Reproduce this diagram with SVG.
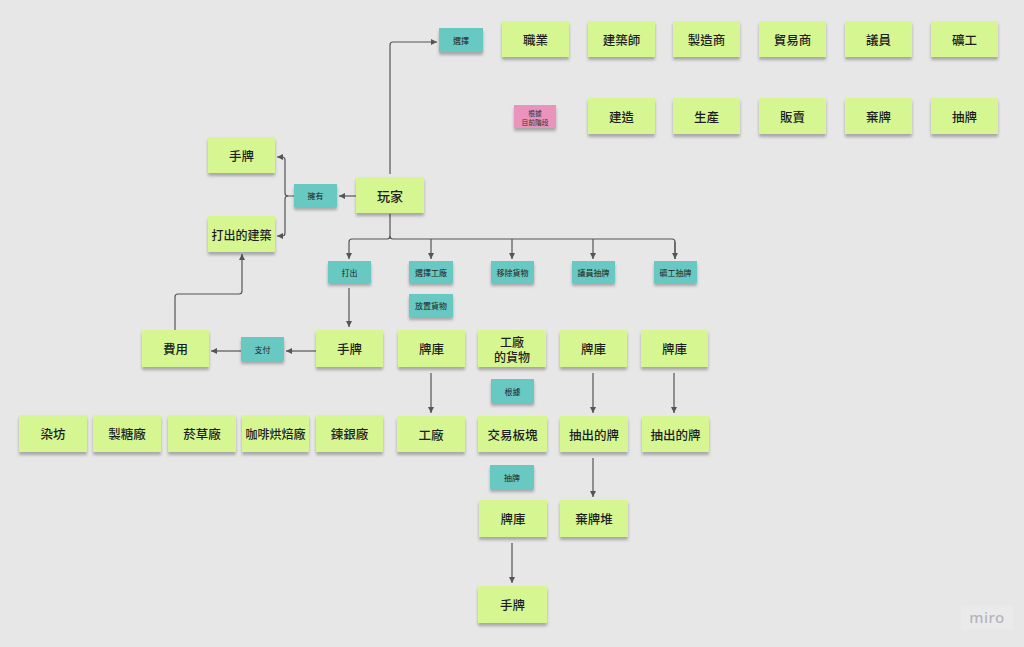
<svg xmlns="http://www.w3.org/2000/svg" width="1024" height="647" viewBox="0 0 1024 647">
<defs>
<filter id="sh" x="-10%" y="-10%" width="120%" height="140%">
<feDropShadow dx="0" dy="3" stdDeviation="1.8" flood-color="#000" flood-opacity="0.28"/>
</filter>
<marker id="ah" markerUnits="userSpaceOnUse" markerWidth="7" markerHeight="7" refX="6" refY="3" orient="auto">
<path d="M0,0 L6,3 L0,6 z" fill="#555"/>
</marker>
<style>
.n{fill:#d6f692;filter:url(#sh)}
.t{fill:#67c8c2;filter:url(#sh)}
.p{fill:#ea93bd;filter:url(#sh)}
.nt{font-family:"Noto Sans CJK TC","Noto Sans CJK SC",sans-serif;font-size:12.5px;font-weight:500;fill:#1e1e1e;text-anchor:middle;dominant-baseline:central}
.tt{font-family:"Noto Sans CJK TC","Noto Sans CJK SC",sans-serif;font-size:8px;fill:#222;text-anchor:middle;dominant-baseline:central}
.pt{font-family:"Noto Sans CJK TC","Noto Sans CJK SC",sans-serif;font-size:6.8px;fill:#333;text-anchor:middle;dominant-baseline:central}
.c{fill:none;stroke:#555;stroke-width:1.2}
.ca{fill:none;stroke:#555;stroke-width:1.2;marker-end:url(#ah)}
</style>
</defs>
<rect width="1024" height="647" fill="#e7e7e7"/>

<g id="connectors">
<path class="ca" d="M390,174 V45 Q390,42 393,42 H437"/>
<path class="ca" d="M356,196 H339"/>
<path class="ca" d="M294,196 H288 Q285,196 285,193 V160 Q285,157 282,157 H277"/>
<path class="ca" d="M288,196 Q285,196 285,199 V233 Q285,236 282,236 H277"/>
<path class="c" d="M390,214 V236 Q390,239 393,239 H672 Q675,239 675,242 V259"/>
<path class="ca" d="M675,242 V259"/>
<path class="ca" d="M390,236 Q390,239 387,239 H352 Q349,239 349,242 V259"/>
<path class="ca" d="M431,239 V259"/>
<path class="ca" d="M512,239 V259"/>
<path class="ca" d="M593,239 V259"/>
<path class="ca" d="M349,288 V327"/>
<path class="ca" d="M316,351 H286"/>
<path class="ca" d="M241,351 H211"/>
<path class="ca" d="M175,330 V297 Q175,294 178,294 H239 Q242,294 242,291 V254"/>
<path class="ca" d="M431,373 V413"/>
<path class="ca" d="M593,373 V413"/>
<path class="ca" d="M674,373 V413"/>
<path class="ca" d="M593,458 V497"/>
<path class="ca" d="M512,543 V583"/>
</g>

<g id="n-zhiye"><rect class="n" x="502" y="21" width="67" height="36"/><text class="nt" x="535.5" y="39">職業</text></g>
<g id="n-jianzhushi"><rect class="n" x="588" y="21" width="67" height="36"/><text class="nt" x="621.5" y="39">建築師</text></g>
<g id="n-zhizaoshang"><rect class="n" x="673" y="21" width="67" height="36"/><text class="nt" x="706.5" y="39">製造商</text></g>
<g id="n-maoyishang"><rect class="n" x="759" y="21" width="67" height="36"/><text class="nt" x="792.5" y="39">貿易商</text></g>
<g id="n-yiyuan"><rect class="n" x="845" y="21" width="67" height="36"/><text class="nt" x="878.5" y="39">議員</text></g>
<g id="n-kuanggong"><rect class="n" x="931" y="21" width="67" height="36"/><text class="nt" x="964.5" y="39">礦工</text></g>

<g id="n-genju-stage"><rect class="p" x="514" y="105" width="42" height="23"/><text class="pt" x="535" y="112.5">根據</text><text class="pt" x="535" y="121.5">目前階段</text></g>
<g id="n-jianzao"><rect class="n" x="588" y="98" width="67" height="36"/><text class="nt" x="621.5" y="116">建造</text></g>
<g id="n-shengchan"><rect class="n" x="673" y="98" width="67" height="36"/><text class="nt" x="706.5" y="116">生產</text></g>
<g id="n-fanmai"><rect class="n" x="759" y="98" width="67" height="36"/><text class="nt" x="792.5" y="116">販賣</text></g>
<g id="n-qipai"><rect class="n" x="845" y="98" width="67" height="36"/><text class="nt" x="878.5" y="116">棄牌</text></g>
<g id="n-choupai"><rect class="n" x="931" y="98" width="67" height="36"/><text class="nt" x="964.5" y="116">抽牌</text></g>

<g id="l-xuanze"><rect class="t" x="439" y="28" width="44" height="24"/><text class="tt" x="461" y="40">選擇</text></g>
<g id="n-shoupai1"><rect class="n" x="208" y="137" width="67" height="36"/><text class="nt" x="241.5" y="155">手牌</text></g>
<g id="n-dachu-jianzhu"><rect class="n" x="208" y="216" width="67" height="36"/><text class="nt" x="241.5" y="234" style="font-size:12px">打出的建築</text></g>
<g id="l-yongyou"><rect class="t" x="294" y="184" width="43" height="23"/><text class="tt" x="315.5" y="195.5">擁有</text></g>
<g id="n-wanjia"><rect class="n" x="356" y="177" width="68" height="36"/><text class="nt" x="390" y="195" style="font-size:13px">玩家</text></g>

<g id="l-dachu"><rect class="t" x="328" y="261" width="43" height="22"/><text class="tt" x="349.5" y="272">打出</text></g>
<g id="l-xuanze-gongchang"><rect class="t" x="409" y="261" width="44" height="22"/><text class="tt" x="431" y="272">選擇工廠</text></g>
<g id="l-yichu-huowu"><rect class="t" x="491" y="261" width="43" height="22"/><text class="tt" x="512.5" y="272">移除貨物</text></g>
<g id="l-yiyuan-choupai"><rect class="t" x="572" y="261" width="43" height="22"/><text class="tt" x="593.5" y="272">議員抽牌</text></g>
<g id="l-kuanggong-choupai"><rect class="t" x="654" y="261" width="43" height="22"/><text class="tt" x="675.5" y="272">礦工抽牌</text></g>
<g id="l-fangzhi-huowu"><rect class="t" x="409" y="294" width="44" height="23"/><text class="tt" x="431" y="305.5">放置貨物</text></g>

<g id="n-feiyong"><rect class="n" x="142" y="330" width="67" height="37"/><text class="nt" x="175.5" y="348.5">費用</text></g>
<g id="l-zhifu"><rect class="t" x="241" y="337" width="43" height="24"/><text class="tt" x="262.5" y="349">支付</text></g>
<g id="n-shoupai2"><rect class="n" x="316" y="330" width="67" height="37"/><text class="nt" x="349.5" y="348.5">手牌</text></g>
<g id="n-paiku1"><rect class="n" x="398" y="330" width="67" height="37"/><text class="nt" x="431.5" y="348.5">牌庫</text></g>
<g id="n-gongchang-huowu"><rect class="n" x="478" y="330" width="68" height="37"/><text class="nt" x="512" y="341" style="font-size:12px">工廠</text><text class="nt" x="512" y="356.5" style="font-size:12px">的貨物</text></g>
<g id="n-paiku2"><rect class="n" x="560" y="330" width="67" height="37"/><text class="nt" x="593.5" y="348.5">牌庫</text></g>
<g id="n-paiku3"><rect class="n" x="641" y="330" width="67" height="37"/><text class="nt" x="674.5" y="348.5">牌庫</text></g>

<g id="n-ranfang"><rect class="n" x="19" y="415" width="68" height="37"/><text class="nt" x="53" y="433.5">染坊</text></g>
<g id="n-zhitangchang"><rect class="n" x="93" y="415" width="68" height="37"/><text class="nt" x="127" y="433.5">製糖廠</text></g>
<g id="n-yancaochang"><rect class="n" x="168" y="415" width="68" height="37"/><text class="nt" x="202" y="433.5">菸草廠</text></g>
<g id="n-kafei"><rect class="n" x="242" y="415" width="67" height="37"/><text class="nt" x="275.5" y="433.5" style="font-size:12px">咖啡烘焙廠</text></g>
<g id="n-lianyin"><rect class="n" x="316" y="415" width="67" height="37"/><text class="nt" x="349.5" y="433.5">鍊銀廠</text></g>

<g id="l-genju"><rect class="t" x="491" y="379" width="43" height="24"/><text class="tt" x="512.5" y="391">根據</text></g>
<g id="n-gongchang"><rect class="n" x="397" y="416" width="68" height="36"/><text class="nt" x="431" y="434">工廠</text></g>
<g id="n-jiaoyi"><rect class="n" x="478" y="416" width="69" height="36"/><text class="nt" x="512.5" y="434">交易板塊</text></g>
<g id="n-chouchu1"><rect class="n" x="560" y="416" width="68" height="36"/><text class="nt" x="594" y="434">抽出的牌</text></g>
<g id="n-chouchu2"><rect class="n" x="642" y="416" width="67" height="36"/><text class="nt" x="675.5" y="434">抽出的牌</text></g>

<g id="l-choupai"><rect class="t" x="490" y="465" width="44" height="24"/><text class="tt" x="512" y="477">抽牌</text></g>
<g id="n-paiku4"><rect class="n" x="479" y="500" width="68" height="37"/><text class="nt" x="513" y="518.5">牌庫</text></g>
<g id="n-qipaidui"><rect class="n" x="560" y="500" width="68" height="37"/><text class="nt" x="594" y="518.5">棄牌堆</text></g>
<g id="n-shoupai3"><rect class="n" x="478" y="586" width="69" height="37"/><text class="nt" x="512.5" y="604.5">手牌</text></g>

<g id="miro-logo"><rect x="961" y="606" width="52" height="24" fill="#eaeaea"/><text x="987" y="623" font-family="'Noto Sans',sans-serif" font-size="15" font-weight="500" fill="#b4b4bd" text-anchor="middle" letter-spacing="0.5">miro</text></g>
</svg>
